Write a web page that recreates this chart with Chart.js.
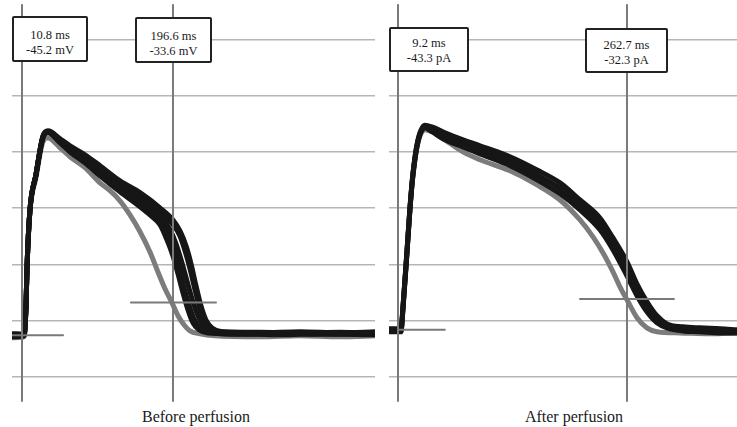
<!DOCTYPE html>
<html>
<head>
<meta charset="utf-8">
<script src="https://cdn.jsdelivr.net/npm/chart.js@4.4.1/dist/chart.umd.min.js"></script>
<style>
html,body{margin:0;padding:0;background:#fff;}
#wrap{position:relative;width:737px;height:427px;overflow:hidden;background:#fff;font-family:"Liberation Serif","Times New Roman",serif;color:#1a1a1a;}
canvas{position:absolute;}
.box{position:absolute;box-sizing:border-box;border:2px solid #222;border-radius:2px;background:#fff;font-size:12.5px;line-height:15.5px;text-align:center;white-space:nowrap;z-index:2;}
.lbl{position:absolute;font-size:16px;line-height:18px;white-space:nowrap;transform:translateX(-50%);z-index:2;}
</style>
</head>
<body>
<div id="wrap">
  <canvas id="before" width="363" height="400" style="left:12px;top:4px;"></canvas>
  <canvas id="after" width="348" height="400" style="left:389px;top:4px;"></canvas>
  <div class="box" style="left:12px;top:16px;width:76px;height:46px;padding-top:9.5px;">10.8 ms<br>-45.2 mV</div>
  <div class="box" style="left:135px;top:17px;width:77px;height:46px;padding-top:9.5px;">196.6 ms<br>-33.6 mV</div>
  <div class="box" style="left:389px;top:27px;width:80px;height:45px;padding-top:6.5px;">9.2 ms<br>-43.3 pA</div>
  <div class="box" style="left:585px;top:28px;width:83px;height:45px;padding-top:7.5px;">262.7 ms<br>-32.3 pA</div>
  <div class="lbl" style="left:196px;top:408px;">Before perfusion</div>
  <div class="lbl" style="left:574px;top:408px;">After perfusion</div>
</div>
<script>
// ---------- Data (time in ms, potential in mV) ----------
// Before perfusion
const beforeCursorTimes = [10.8, 196.6];
const beforeMarkerStart = [-1.5, 144.9];
const beforeMarkerEnd   = [61.3, 249.5];
const beforeMarkerValue = [-45.2, -33.6];

const beforeBlack1Time = [-1.5, 13.3, 15.7, 17.0, 20.6, 28.0, 36.6, 42.8, 57.6, 69.9, 88.3, 106.8, 131.4, 156.0, 180.6, 196.6, 205.2, 212.6, 218.8, 224.9, 231.1, 237.2, 244.6, 256.9, 303.7, 352.9, 402.1, 446.4];
const beforeBlack1Volt = [-45.4, -45.1, -35.1, -20.9, -0.6, 11.9, 25.7, 27.5, 24.7, 22.2, 19.0, 15.1, 9.7, 5.5, 0.1, -4.2, -8.1, -13.4, -19.8, -27.6, -34.8, -39.8, -42.6, -44.0, -44.4, -44.0, -44.4, -44.0];

const beforeBlack4Time = [-1.5, 13.3, 15.7, 17.0, 20.6, 28.0, 36.6, 42.8, 57.6, 69.9, 88.3, 106.8, 131.4, 156.0, 180.6, 196.6, 205.2, 212.6, 218.8, 223.7, 229.8, 236.0, 243.4, 254.4, 303.7, 352.9, 402.1, 446.4];
const beforeBlack4Volt = [-45.0, -45.0, -35.1, -20.9, -0.6, 11.9, 25.5, 27.3, 24.3, 21.6, 18.2, 14.2, 9.0, 4.4, -1.3, -5.9, -9.9, -16.3, -23.0, -29.1, -35.7, -40.1, -42.9, -44.0, -44.2, -44.5, -44.2, -44.5];

const beforeBlack3Time = [-1.5, 13.3, 15.7, 17.0, 20.6, 28.0, 36.6, 42.8, 57.6, 69.9, 88.3, 106.8, 131.4, 156.0, 168.3, 180.6, 192.9, 200.3, 207.7, 215.1, 221.2, 227.4, 233.5, 242.1, 254.4, 303.7, 352.9, 402.1, 446.4];
const beforeBlack3Volt = [-44.7, -44.8, -35.1, -20.9, -0.6, 11.9, 25.4, 27.2, 24.0, 21.1, 17.5, 13.3, 7.9, 2.9, 0.1, -2.7, -7.7, -12.7, -19.5, -27.3, -33.3, -38.3, -41.5, -43.7, -44.4, -44.7, -44.4, -44.7, -44.4];

const beforeBlack5Time = [-1.5, 13.3, 15.7, 17.0, 20.6, 28.0, 36.6, 42.8, 57.6, 69.9, 88.3, 106.8, 131.4, 156.0, 180.6, 190.5, 197.8, 204.0, 210.1, 216.3, 222.4, 229.8, 239.7, 279.1, 328.3, 377.5, 446.4];
const beforeBlack5Volt = [-45.6, -45.5, -35.1, -20.9, -0.6, 11.9, 25.2, 27.0, 23.6, 20.5, 16.8, 12.4, 6.9, 1.9, -4.2, -9.2, -14.8, -21.2, -28.3, -34.4, -39.4, -42.6, -44.0, -44.9, -44.5, -44.9, -44.5];

const beforeBlack2Time = [-1.5, 13.3, 15.7, 17.0, 20.6, 28.0, 36.6, 42.8, 57.6, 69.9, 88.3, 106.8, 131.4, 156.0, 168.3, 180.6, 189.2, 196.6, 202.8, 208.9, 215.1, 221.2, 228.6, 239.7, 279.1, 328.3, 377.5, 446.4];
const beforeBlack2Volt = [-45.8, -45.4, -35.1, -20.9, -0.6, 11.9, 25.0, 26.8, 23.2, 20.0, 16.1, 11.5, 5.8, 0.5, -2.4, -5.9, -11.3, -17.0, -23.4, -30.1, -36.2, -40.8, -43.3, -44.4, -44.7, -45.1, -44.7, -45.1];

const beforeGrayTime = [-1.5, 13.3, 15.7, 17.0, 20.6, 28.0, 36.6, 42.8, 57.6, 69.9, 88.3, 106.8, 119.1, 131.4, 143.7, 156.0, 168.3, 178.1, 186.8, 195.4, 202.8, 210.1, 217.5, 229.8, 248.3, 303.7, 352.9, 402.1, 446.4];
const beforeGrayVolt = [-46.1, -45.8, -36.2, -21.9, -1.3, 10.8, 23.6, 25.0, 21.5, 18.3, 14.4, 9.0, 6.2, 2.6, -2.4, -8.4, -15.6, -22.7, -28.7, -33.7, -38.3, -41.5, -43.7, -44.7, -45.4, -45.8, -45.4, -45.8, -45.4];

// After perfusion
const afterCursorTimes = [9.2, 262.7];
const afterMarkerStart = [9.2, 210.7];
const afterMarkerEnd   = [61.0, 314.7];
const afterMarkerValue = [-43.3, -32.3];

const afterBlackTime = [-0.76, 12.5, 14.7, 19.2, 22.5, 25.8, 31.3, 39.1, 46.8, 61.2, 81.2, 100.0, 133.2, 163.1, 188.6, 210.7, 232.8, 247.2, 262.7, 273.8, 284.8, 295.9, 307.0, 324.7, 343.5, 365.7, 384.5];
const afterBlack1Volt = [-42.9, -42.9, -35.1, -14.8, 0.5, 12.6, 24.3, 29.5, 28.9, 26.8, 24.3, 22.2, 18.3, 13.6, 9.0, 2.9, -3.5, -10.6, -19.1, -27.0, -33.3, -38.3, -41.2, -42.2, -42.6, -42.9, -43.3];
const afterBlack2Volt = [-44.0, -44.0, -35.8, -15.6, -0.2, 11.9, 23.6, 28.6, 27.2, 24.3, 21.8, 19.3, 15.1, 10.1, 5.1, -0.6, -7.7, -14.8, -24.1, -31.2, -36.9, -40.8, -42.6, -43.7, -44.0, -44.4, -44.4];
const afterBlack3Volt = [-43.4, -43.4, -35.4, -15.2, 0.2, 12.2, 24.0, 29.0, 28.0, 25.5, 23.0, 20.7, 16.7, 11.8, 7.0, 1.1, -5.6, -12.7, -21.6, -29.1, -35.1, -39.5, -41.9, -43.0, -43.3, -43.6, -43.8];

const afterGrayTime = [-0.76, 12.5, 14.7, 19.2, 22.5, 25.8, 31.3, 39.1, 46.8, 61.2, 81.2, 100.0, 133.2, 163.1, 188.6, 210.7, 225.1, 236.1, 247.2, 254.9, 262.7, 273.8, 284.8, 295.9, 321.4, 354.6, 384.5];
const afterGrayVolt = [-43.7, -43.7, -36.2, -15.6, -0.2, 11.5, 23.2, 27.9, 27.2, 24.3, 20.0, 17.2, 13.3, 8.3, 2.9, -4.2, -10.2, -15.9, -22.7, -28.0, -32.6, -39.0, -42.6, -44.0, -44.4, -44.7, -44.4];

// Axis settings (values)
const gridValues = [-60, -40, -20, 0, 20, 40, 60];
const cursorSpan = [72.3, -68.6];
const yRange = [-69.7, 72.65];
const beforeTimeRange = [-1.5, 445.2];
const afterTimeRange = [-0.76, 384.5];

// ---------- Drawing ----------
function xy(ts, vs) { return ts.map((t, i) => ({ x: t, y: vs[i] })); }

function makeChart(id, xr, cursors, mStart, mEnd, mVal, blacks, gray) {
  const ds = [];
  cursors.forEach(c => ds.push({ data: [{ x: c, y: cursorSpan[0] }, { x: c, y: cursorSpan[1] }], borderColor: '#7a7a7a', borderWidth: 2 }));
  mStart.forEach((s, i) => ds.push({ data: [{ x: s, y: mVal[i] }, { x: mEnd[i], y: mVal[i] }], borderColor: '#7a7a7a', borderWidth: 2 }));
  blacks.forEach(b => ds.push({ data: xy(b[0], b[1]), borderColor: '#161616', borderWidth: 5, cubicInterpolationMode: 'monotone' }));
  ds.push({ data: xy(gray[0], gray[1]), borderColor: '#7c7c7c', borderWidth: 5, cubicInterpolationMode: 'monotone' });

  return new Chart(document.getElementById(id), {
    type: 'line',
    data: { datasets: ds },
    options: {
      responsive: false,
      animation: false,
      events: [],
      layout: { padding: 0 },
      plugins: { legend: { display: false }, tooltip: { enabled: false }, title: { display: false } },
      elements: { point: { radius: 0 }, line: { borderCapStyle: 'round', borderJoinStyle: 'round', fill: false } },
      scales: {
        x: { type: 'linear', min: xr[0], max: xr[1], display: false },
        y: {
          type: 'linear', min: yRange[0], max: yRange[1], display: true,
          border: { display: false },
          ticks: { display: false, stepSize: 20, includeBounds: false },
          grid: {
            drawTicks: false, lineWidth: 1.5,
            color: ctx => (ctx.tick && gridValues.includes(ctx.tick.value)) ? '#b5b5b5' : 'rgba(0,0,0,0)'
          },
          afterFit: s => { s.width = 0; }
        }
      }
    }
  });
}

makeChart('before', beforeTimeRange, beforeCursorTimes, beforeMarkerStart, beforeMarkerEnd, beforeMarkerValue,
  [[beforeBlack1Time, beforeBlack1Volt], [beforeBlack4Time, beforeBlack4Volt], [beforeBlack3Time, beforeBlack3Volt],
   [beforeBlack5Time, beforeBlack5Volt], [beforeBlack2Time, beforeBlack2Volt]],
  [beforeGrayTime, beforeGrayVolt]);

makeChart('after', afterTimeRange, afterCursorTimes, afterMarkerStart, afterMarkerEnd, afterMarkerValue,
  [[afterBlackTime, afterBlack1Volt], [afterBlackTime, afterBlack3Volt], [afterBlackTime, afterBlack2Volt]],
  [afterGrayTime, afterGrayVolt]);
</script>
</body>
</html>
